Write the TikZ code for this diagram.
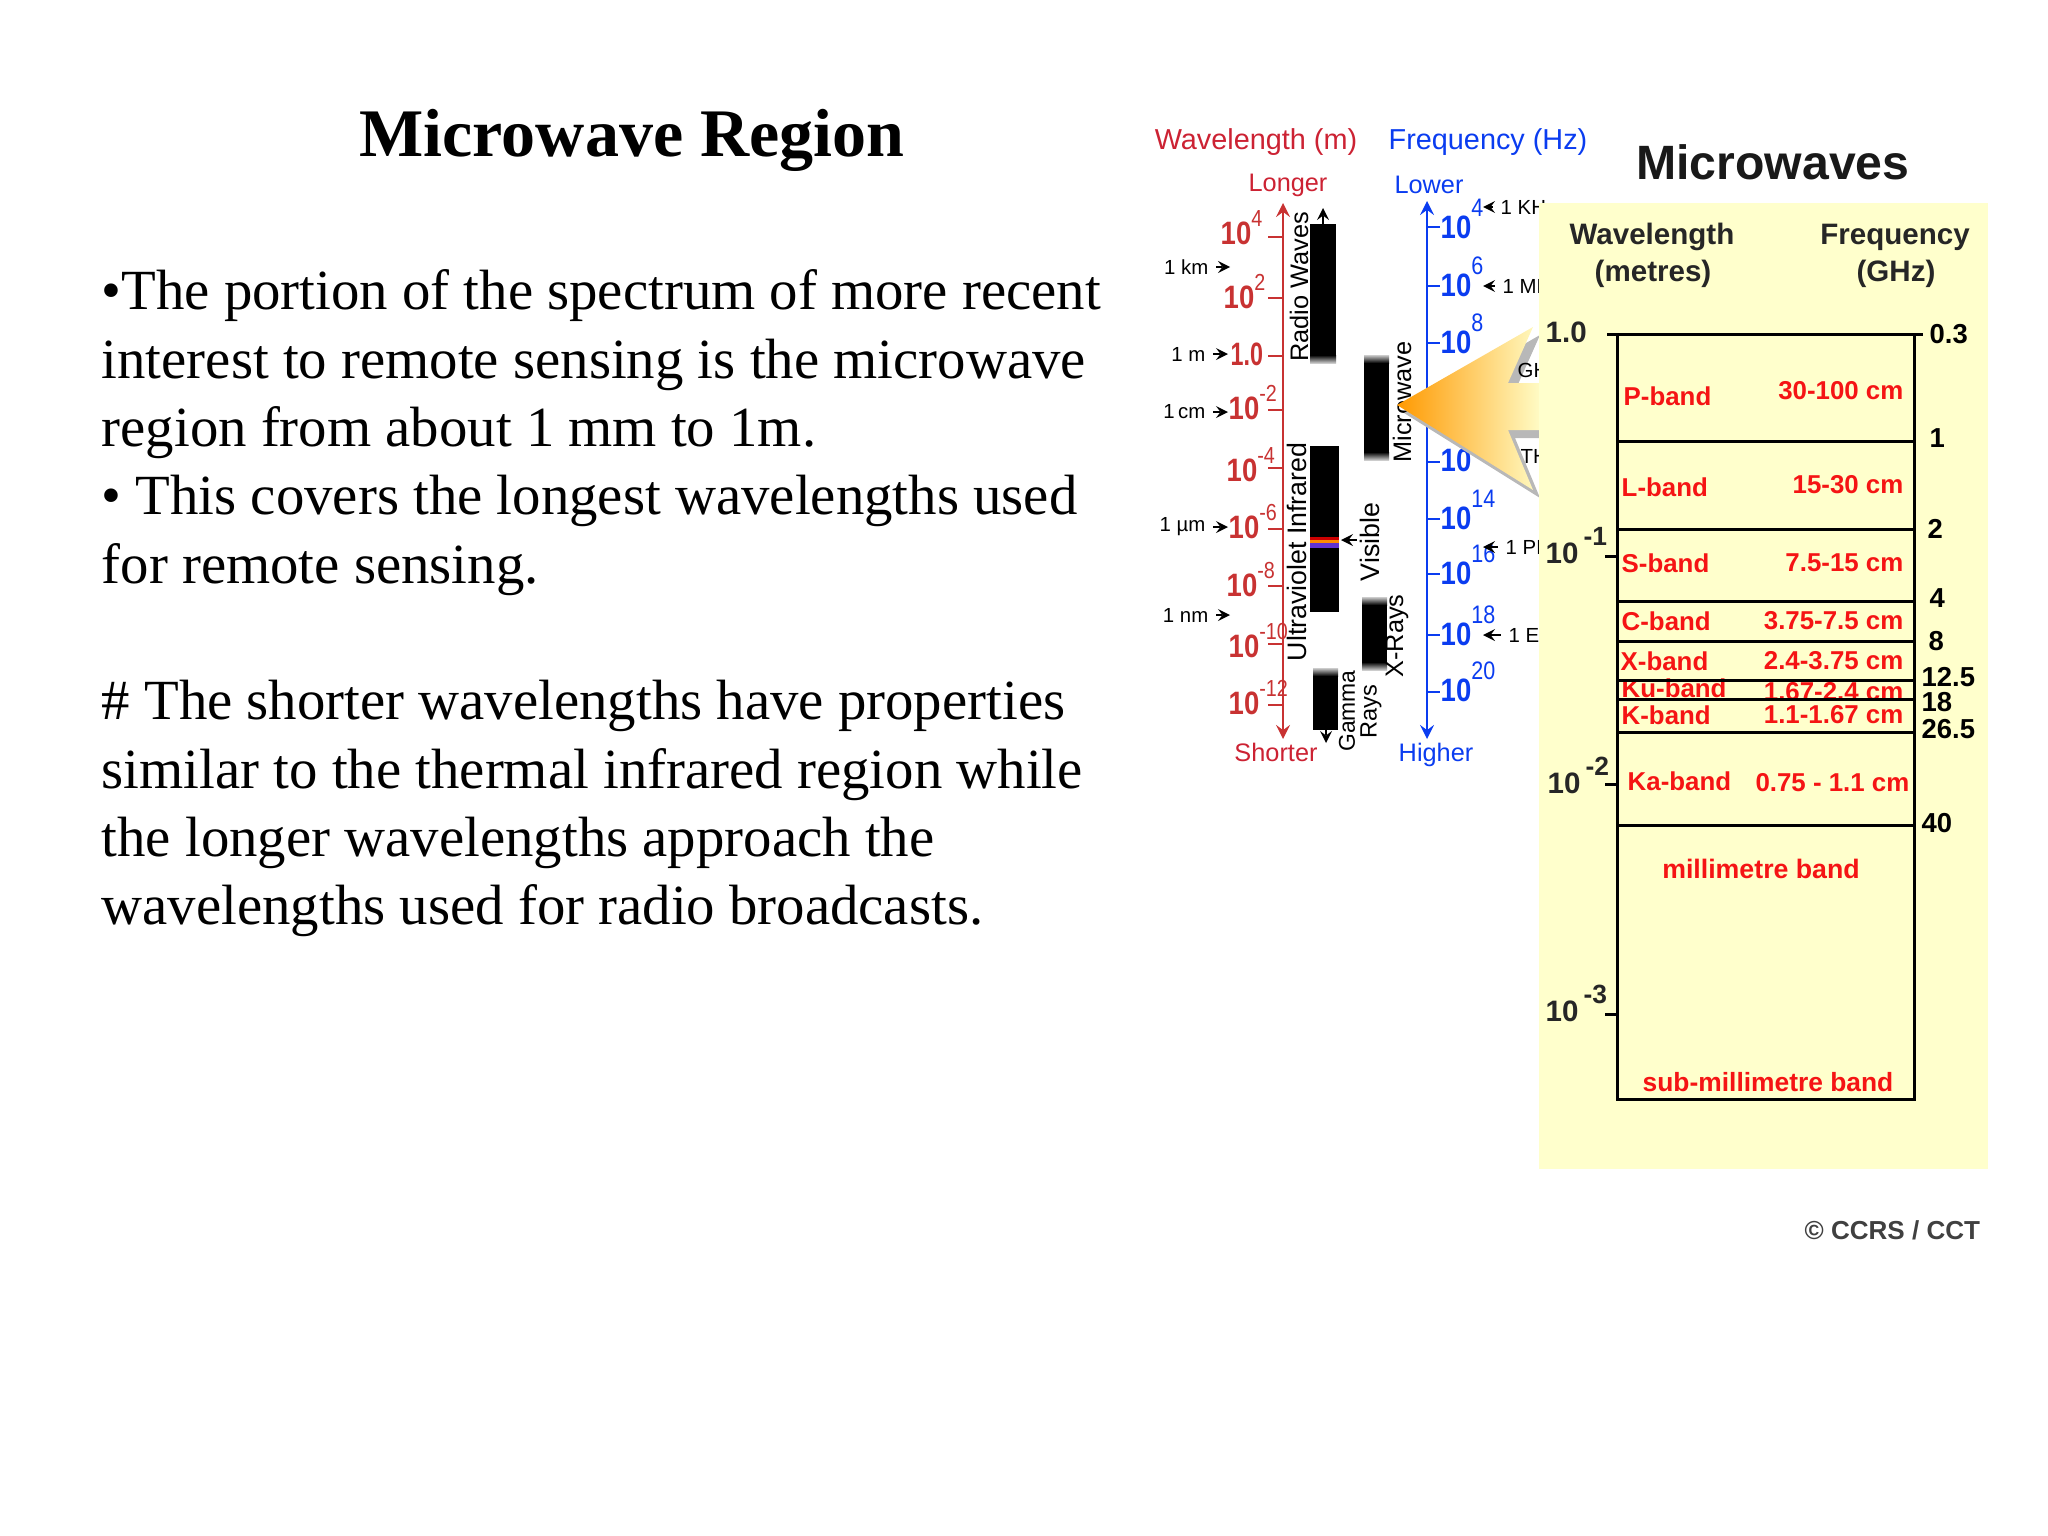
\documentclass[tikz,border=0pt]{standalone}
\usepackage{fontspec}
\setmainfont{Liberation Serif}
\newfontfamily\chartfont{Liberation Sans}
\newfontfamily\numfont[FakeStretch=0.85]{Liberation Sans}
\newfontfamily\tightfont[FakeStretch=0.72]{Liberation Sans}
\definecolor{panelyellow}{HTML}{FFFFCC}
\definecolor{arroworange}{HTML}{FF9900}
\definecolor{arrowmid}{HTML}{FFC457}
\definecolor{wavered}{HTML}{CC2233}
\definecolor{scalered}{HTML}{C83232}
\definecolor{freqblue}{HTML}{0A3CF0}
\definecolor{bandred}{HTML}{F51414}
\newcommand{\redpow}[1]{10\raisebox{5pt}{\mdseries\fontsize{6.6}{7}\selectfont #1}}
\newcommand{\bluepow}[1]{10\raisebox{6pt}{\mdseries\fontsize{7.2}{8}\selectfont #1}}
\newcommand{\blackpow}[1]{10\,\raisebox{5pt}{\fontsize{7.5}{8}\selectfont #1}}
\tikzset{
  wavetitle/.style={font=\chartfont\fontsize{7.2}{9}\selectfont,inner sep=0pt},
  wavehead/.style={font=\chartfont\fontsize{8.2}{9}\selectfont,inner sep=0pt},
  rednum/.style={anchor=base west,yshift=-0.11cm,inner sep=0pt,text=scalered,font=\numfont\bfseries\fontsize{9.2}{10}\selectfont},
  bluenum/.style={anchor=base west,yshift=-0.11cm,inner sep=0pt,text=freqblue,font=\numfont\bfseries\fontsize{9.2}{10}\selectfont},
  smalltag/.style={inner sep=0pt,font=\chartfont\fontsize{5.8}{7}\selectfont},
  sideword/.style={rotate=90,inner sep=0pt,font=\chartfont\fontsize{7.2}{8}\selectfont},
  bandname/.style={anchor=west,inner sep=0pt,text=bandred,font=\chartfont\bfseries\fontsize{7.35}{8}\selectfont},
  bandsize/.style={anchor=east,inner sep=0pt,text=bandred,font=\chartfont\bfseries\fontsize{7.35}{8}\selectfont},
  paneltext/.style={inner sep=0pt,text=black!85,font=\chartfont\bfseries\fontsize{8.4}{9}\selectfont},
  ghznum/.style={anchor=west,inner sep=0pt,font=\chartfont\bfseries\fontsize{7.8}{9}\selectfont},
  bandline/.style={line width=0.85pt},
  tag arrow/.style={->,>=stealth,line width=0.5pt}
}
\begin{document}
\begin{tikzpicture}[x=0.01cm,y=-0.01cm]
\useasboundingbox (0,0) rectangle (2048,1536);

\node[inner sep=0pt,font=\bfseries\fontsize{19.35}{23}\selectfont] (title) at (632,140) {Microwave Region};
\node[anchor=north west,inner sep=0pt,align=left,font=\fontsize{16.15}{19.43}\selectfont] (body) at (101,269) {%
•The portion of the spectrum of more recent\\
interest to remote sensing is the microwave\\
region from about 1 mm to 1m.\\
• This covers the longest wavelengths used\\
for remote sensing.\\
\mbox{}\\
\# The shorter wavelengths have properties\\
similar to the thermal infrared region while\\
the longer wavelengths approach the\\
wavelengths used for radio broadcasts.};

% wavelength scale
\node[wavehead,text=wavered] (wavehead) at (1256,142) {Wavelength (m)};
\node[wavehead,text=freqblue] (freqhead) at (1488,142) {Frequency (Hz)};
\node[wavetitle,text=wavered] (longer) at (1288,185) {Longer};
\node[wavetitle,text=freqblue] (lower) at (1429,185) {Lower};
\node[wavetitle,text=wavered] (shorter) at (1276,752) {Shorter};
\node[wavetitle,text=freqblue] (higher) at (1436,755) {Higher};

\coordinate (redtop) at (1283,203);
\coordinate (redbot) at (1283,739);
\draw[<->,>=stealth,scalered,line width=0.75pt] (redtop) -- (redbot);
\foreach \y in {237,298,356,410,468,529,586,644,705}
  \draw[scalered,line width=0.75pt] (1268,\y) -- (1283,\y);
\foreach \x/\y/\e/\n in {1220/233/4/a,1223/297/2/b,1228/408/-2/c,1226/470/-4/d,1228/527/-6/e,1226/585/-8/f,1228/646/-10/g,1228/703/-12/h}
  \node[rednum] (wave\n) at (\x,\y) {\redpow{\e}};
\node[rednum,font=\tightfont\bfseries\fontsize{9.2}{10}\selectfont] (waveone) at (1230,354) {1.0};

% length tags
\foreach \n/\t/\x/\y/\z in {km/1 km/1209/267/1230,m/1 m/1206/354/1228,cm/1\,cm/1206/412/1228,um/1 µm/1206/527/1228,nm/1 nm/1209/615/1230}{
  \node[smalltag,anchor=east] (tag\n) at (\x,\y) {\t};
  \coordinate (tip\n) at (\z,\y);
  \draw[tag arrow,shorten <=2pt] (tag\n) -- (tip\n);
}

% black bars
\fill (1310,224) rectangle (1336,355);
\shade[top color=black,bottom color=black!20] (1310,355) rectangle (1336,363);
\fill (1364,363) rectangle (1389,452);
\shade[top color=black!20,bottom color=black] (1364,355) rectangle (1389,363);
\shade[top color=black,bottom color=black!20] (1364,452) rectangle (1389,460);
\fill (1310,446) rectangle (1339,612);
\fill[red!80!black] (1310,537) rectangle (1339,540);
\fill[orange!90!yellow] (1310,540) rectangle (1339,543);
\fill[blue!70!purple!80] (1310,543) rectangle (1339,548);
\fill (1362,605) rectangle (1387,662);
\shade[top color=black!20,bottom color=black] (1362,597) rectangle (1387,605);
\shade[top color=black,bottom color=black!20] (1362,662) rectangle (1387,670);
\fill (1313,676) rectangle (1338,730);
\shade[top color=black!20,bottom color=black] (1313,668) rectangle (1338,676);

\node[sideword] (radio) at (1299,287) {Radio Waves};
\node[sideword] (micro) at (1402,402) {Microwave};
\node[sideword,font=\chartfont\fontsize{7.6}{8}\selectfont] (uvir) at (1297,552) {Ultraviolet Infrared};
\node[sideword,font=\chartfont\fontsize{7.6}{8}\selectfont] (visible) at (1370,542) {Visible};
\node[sideword] (xray) at (1397,636) {X-Rays};
\node[sideword,font=\chartfont\fontsize{6.5}{8}\selectfont] (gamma) at (1347,711) {Gamma};
\node[sideword,font=\chartfont\fontsize{6.7}{8}\selectfont] (rays) at (1371,712) {Rays};

\coordinate (radiobar) at (1323,224);
\coordinate (radiotip) at (1323,208);
\draw[tag arrow] (radiobar) -- (radiotip);
\coordinate (gammabar) at (1326,730);
\coordinate (gammatip) at (1326,743);
\draw[tag arrow] (gammabar) -- (gammatip);
\coordinate (visiblebar) at (1357,540);
\coordinate (visibletip) at (1341,540);
\draw[tag arrow] (visiblebar) -- (visibletip);

% frequency scale
\coordinate (bluetop) at (1427,201);
\coordinate (bluebot) at (1427,739);
\draw[<->,>=stealth,freqblue,line width=0.75pt] (bluetop) -- (bluebot);
\foreach \y in {227,286,343,403,462,519,574,635,692}
  \draw[freqblue,line width=0.75pt] (1427,\y) -- (1440,\y);
\foreach \y/\e/\n in {227/4/a,285/6/b,342/8/c,518/14/e,573/16/f,634/18/g,690/20/h}
  \node[bluenum] (freq\n) at (1440,\y) {\bluepow{\e}};
\node[bluenum] (freqd) at (1440,460) {10};
\foreach \n/\t/\x/\y in {khz/1 KH/1500/207,mhz/1 MH/1502/286,phz/1 PH/1505/547,ehz/1 EH/1508/635}{
  \node[smalltag,anchor=west] (tag\n) at (\x,\y) {\t};
  \coordinate (tip\n) at (1483,\y);
  \draw[tag arrow,shorten <=2pt] (tag\n) -- (tip\n);
}

% arrow to the panel, with its shadow
\fill[black!28,shift={(7,8)}] (1397,405) -- (1533,327) -- (1508,383) -- (1539,383) -- (1539,430) -- (1508,430) -- (1533,490) -- cycle;
\node[smalltag,anchor=west] (ghz) at (1517,370) {GH};
\node[smalltag,anchor=west] (thz) at (1520,456) {TH};
\shade[left color=arroworange,middle color=arrowmid,right color=panelyellow] (1397,405) -- (1533,327) -- (1508,383) -- (1545,383) -- (1545,430) -- (1508,430) -- (1533,490) -- cycle;

% panel
\fill[panelyellow] (1539,203) rectangle (1988,1169);
\node[inner sep=0pt,text=black!90,font=\chartfont\bfseries\fontsize{13.7}{15}\selectfont] (panelhead) at (1773,162) {Microwaves};
\node[paneltext] (panelwave) at (1652,237) {Wavelength};
\node[paneltext] (panelmetres) at (1653,274) {(metres)};
\node[paneltext] (panelfreq) at (1895,237) {Frequency};
\node[paneltext] (panelghz) at (1896,274) {(GHz)};

\node[paneltext,anchor=west] (one) at (1545,332) {1.0};
\node[paneltext,anchor=base west,yshift=-0.1cm] (tenone) at (1545,553) {\blackpow{-1}};
\node[paneltext,anchor=base west,yshift=-0.1cm] (tentwo) at (1547,783) {\blackpow{-2}};
\node[paneltext,anchor=base west,yshift=-0.1cm] (tenthree) at (1545,1011) {\blackpow{-3}};

\foreach \x/\y/\t/\n in {1929/334/0.3/a,1929/438/1/b,1927/529/2/c,1929/598/4/d,1928/641/8/e,1921/677/12.5/f,1921/702/18/g,1921/729/26.5/h,1921/823/40/i}
  \node[ghznum] (ghz\n) at (\x,\y) {\t};

\foreach \x/\y/\t/\n in {1623/396/P-band/p,1621/487/L-band/l,1621/563/S-band/s,1621/621/C-band/c,1620/661/X-band/x,1621/715/K-band/k,1627/781/Ka-band/a}
  \node[bandname] (name\n) at (\x,\y) {\t};
\foreach \x/\y/\t/\n in {1904/391/30-100 cm/p,1904/485/15-30 cm/l,1904/563/7.5-15 cm/s,1904/621/3.75-7.5 cm/c,1904/661/2.4-3.75 cm/x,1904/715/1.1-1.67 cm/k,1910/783/0.75 - 1.1 cm/a}
  \node[bandsize] (size\n) at (\x,\y) {\t};
\begin{scope}
  \clip (1617,670) rectangle (1914,699);
  \node[bandname] (nameu) at (1621,688) {Ku-band};
  \node[bandsize] (sizeu) at (1904,692) {1.67-2.4 cm};
\end{scope}
\node[bandname,anchor=center,font=\chartfont\bfseries\fontsize{7.6}{8}\selectfont] (mm) at (1761,869) {millimetre band};
\node[bandname,anchor=center,font=\chartfont\bfseries\fontsize{7.5}{8}\selectfont] (submm) at (1768,1082) {sub-millimetre band};

\draw[bandline] (1607,334) -- (1923,334);
\draw[bandline] (1617,334) rectangle (1914,1099);
\foreach \y in {441,529,601,641,680,699,732,825}
  \draw[bandline] (1617,\y) -- (1914,\y);
\foreach \y in {556,784,1014}
  \draw[bandline] (1605,\y) -- (1617,\y);

\node[anchor=west,inner sep=0pt,text=black!75,font=\chartfont\bfseries\fontsize{7.4}{8}\selectfont] (credit) at (1804,1230) {© CCRS / CCT};
\end{tikzpicture}
\end{document}
